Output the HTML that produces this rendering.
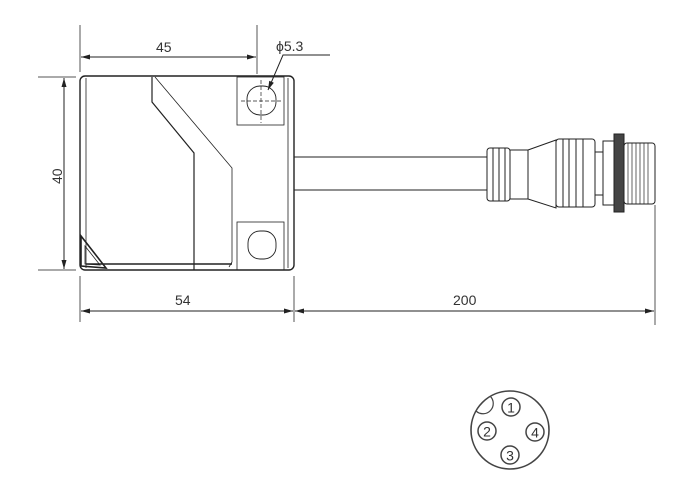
<!DOCTYPE html>
<html><head><meta charset="utf-8"><style>
html,body{margin:0;padding:0;background:#fff;}
svg{display:block;}
text{font-family:"Liberation Sans",sans-serif;font-size:14px;fill:#333;}
</style></head><body>
<svg width="695" height="496" viewBox="0 0 695 496" xmlns="http://www.w3.org/2000/svg">
<defs><marker id="a" markerWidth="10" markerHeight="6" refX="9" refY="3" orient="auto-start-reverse"><path d="M0,0.5 L9,3 L0,5.5 z" fill="#222"/></marker></defs>
<g stroke="#555" stroke-width="1" fill="none">
<line x1="80" y1="25" x2="80" y2="72"/>
<line x1="257" y1="25" x2="257" y2="74"/>
<line x1="38" y1="77" x2="76" y2="77"/>
<line x1="38" y1="270" x2="76" y2="270"/>
<line x1="80" y1="276" x2="80" y2="322"/>
<line x1="294" y1="276" x2="294" y2="322"/>
<line x1="655" y1="205" x2="655" y2="325"/>
</g>
<g stroke="#222" stroke-width="1" fill="none">
<line x1="81" y1="57" x2="256" y2="57" marker-start="url(#a)" marker-end="url(#a)"/>
<line x1="64" y1="78" x2="64" y2="269" marker-start="url(#a)" marker-end="url(#a)"/>
<line x1="81" y1="311" x2="293" y2="311" marker-start="url(#a)" marker-end="url(#a)"/>
<line x1="295" y1="311" x2="654" y2="311" marker-start="url(#a)" marker-end="url(#a)"/>
<polyline points="330,55 283,55 268,90" marker-end="url(#a)"/>
</g>
<text x="156" y="52">45</text>
<text x="276" y="51">ϕ5.3</text>
<text x="175" y="305">54</text>
<text x="453" y="305">200</text>
<text transform="translate(62,184) rotate(-90)">40</text>
<g stroke="#222" fill="none">
<rect x="80" y="76" width="214" height="194" rx="5" stroke-width="1.4"/>
<line x1="86" y1="78" x2="86" y2="268" stroke-width="0.8"/>
<line x1="288" y1="78" x2="288" y2="268" stroke-width="0.8"/>
<polyline points="152,77 152,102 194,153 194,270" stroke-width="1.2"/>
<polyline points="155,77 232,168 232,262 229,267" stroke-width="0.8"/>
<line x1="86" y1="264" x2="232" y2="264" stroke-width="1.4"/>
<rect x="237" y="77" width="47" height="48" stroke-width="0.8"/>
<rect x="237" y="222" width="47" height="48" stroke-width="0.8"/>
<rect x="247" y="86" width="29" height="29" rx="13" stroke-width="0.9"/>
<rect x="248" y="231" width="28" height="28" rx="12" stroke-width="0.9"/>
<line x1="241" y1="101" x2="283" y2="101" stroke-dasharray="4,2" stroke-width="0.7"/>
<line x1="261" y1="80" x2="261" y2="123" stroke-dasharray="4,2" stroke-width="0.7"/>
<path d="M81,236 L81,266 L106,268 Z" stroke-width="1.6"/>
<path d="M85,246 L85,264 L100,265 Z" stroke-width="0.8"/>
<line x1="294" y1="157" x2="487" y2="157" stroke-width="0.9"/>
<line x1="294" y1="190" x2="487" y2="190" stroke-width="0.9"/>
<rect x="487" y="148" width="23" height="53" rx="3" stroke-width="1"/>
<line x1="493" y1="148" x2="493" y2="201"/><line x1="499" y1="148" x2="499" y2="201"/><line x1="505" y1="148" x2="505" y2="201"/>
<rect x="510" y="150" width="18" height="49"/>
<path d="M528,150 L556,140 L556,208 L528,199 Z"/>
<rect x="556" y="139" width="39" height="68" rx="3"/>
<line x1="563" y1="139" x2="563" y2="207"/><line x1="569" y1="139" x2="569" y2="207"/><line x1="576" y1="139" x2="576" y2="207"/><line x1="583" y1="139" x2="583" y2="207"/>
<rect x="595" y="152" width="8" height="43"/>
<rect x="603" y="141" width="11" height="64"/>
<rect x="614" y="134" width="10" height="78" fill="#444"/>
<rect x="624" y="143" width="31" height="61" rx="3"/>
<g stroke-width="0.7"><line x1="628" y1="143" x2="628" y2="204"/><line x1="632" y1="143" x2="632" y2="204"/><line x1="636" y1="143" x2="636" y2="204"/><line x1="640" y1="143" x2="640" y2="204"/><line x1="644" y1="143" x2="644" y2="204"/><line x1="648" y1="143" x2="648" y2="204"/></g>
<circle cx="510" cy="430" r="39" stroke="#444" stroke-width="1.6"/>
<path d="M476,411 A10,10 0 0 0 490,396" stroke="#444" stroke-width="1.2"/>
<g stroke="#444" stroke-width="1.5"><circle cx="511" cy="407" r="9"/><circle cx="487" cy="431" r="9"/><circle cx="535" cy="432" r="9"/><circle cx="510" cy="455" r="9"/></g>
</g>
<g style="font-size:15px" text-anchor="middle">
<text x="511" y="412.5">1</text><text x="487" y="436.5">2</text><text x="535" y="437.5">4</text><text x="510" y="460.5">3</text>
</g>
</svg>
</body></html>
